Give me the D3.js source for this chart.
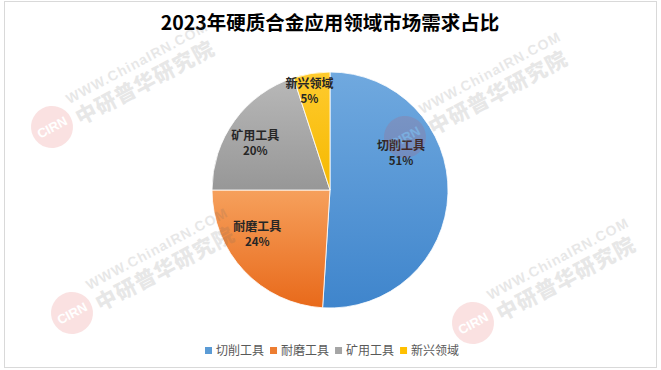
<!DOCTYPE html>
<html><head><meta charset="utf-8">
<script src="https://cdn.jsdelivr.net/npm/d3@7"></script>
<style>
html,body{margin:0;padding:0;background:#fff;}
svg{display:block;font-family:"Noto Sans CJK SC","Noto Sans",sans-serif;}
</style></head>
<body>
<svg id="chart" width="661" height="370"></svg>
<script>
const title = "2023年硬质合金应用领域市场需求占比";
const categories = ["切削工具", "耐磨工具", "矿用工具", "新兴领域"];
const values = [51, 24, 20, 5];
const colorsLight = ["#70a9df", "#f6a05c", "#b8b8b8", "#ffcb2e"];
const colorsDark  = ["#3f85cc", "#e8691a", "#979797", "#f5b800"];
const legendColors = ["#5b9bd5", "#ed7d31", "#a5a5a5", "#ffc000"];
// label placement (fraction of slice angle, fraction of radius)
const labelAngleFrac = [0.34, 0.64, 0.45, 0.35];
const labelRadiusFrac = [0.68, 0.72, 0.75, 0.86];

const svg = d3.select("#chart");
svg.append("rect").attr("x",4.5).attr("y",1.5).attr("width",652).attr("height",366)
  .attr("fill","#fff").attr("stroke","#d9d9d9").attr("stroke-width",1);

const defs = svg.append("defs");
categories.forEach((c,i)=>{
  const g = defs.append("linearGradient").attr("id","grad"+i)
    .attr("x1",0).attr("y1",0).attr("x2",0).attr("y2",1);
  g.append("stop").attr("offset","0%").attr("stop-color",colorsLight[i]);
  g.append("stop").attr("offset","100%").attr("stop-color",colorsDark[i]);
});

svg.append("text").attr("x",330).attr("y",30).attr("text-anchor","middle")
  .attr("font-size",19.5).attr("font-weight",700).attr("fill","#000").text(title);

const cx = 330, cy = 190, r = 118;
const pie = d3.pie().sort(null).value(d=>d)(values);
const arc = d3.arc().innerRadius(0).outerRadius(r);
const g = svg.append("g").attr("transform",`translate(${cx},${cy})`);
g.selectAll("path").data(pie).join("path")
  .attr("d",arc).attr("fill",(d,i)=>`url(#grad${i})`)
  .attr("stroke","#fff").attr("stroke-width",0.8);

pie.forEach((d,i)=>{
  const a = d.startAngle + (d.endAngle-d.startAngle)*labelAngleFrac[i];
  const rr = r*labelRadiusFrac[i];
  const x = Math.sin(a)*rr, y = -Math.cos(a)*rr;
  g.append("text").attr("text-anchor","middle").attr("font-size",12)
    .attr("font-weight",700).attr("fill","#262626")
    .attr("x",x).attr("y",y-3).text(categories[i]);
  g.append("text").attr("text-anchor","middle").attr("font-size",11.5)
    .attr("font-weight",700).attr("fill","#262626")
    .attr("x",x).attr("y",y+12).text(values[i]+"%");
});

// legend
const legend = svg.append("g");
let lx = 205;
categories.forEach((c,i)=>{
  legend.append("rect").attr("x",lx).attr("y",347).attr("width",7).attr("height",7).attr("fill",legendColors[i]);
  const t = legend.append("text").attr("x",lx+11).attr("y",355).attr("font-size",12)
    .attr("fill","#595959").text(c);
  lx += 11 + t.node().getComputedTextLength() + 6;
});

// watermarks
const marks = [[52,127],[405,137],[72,313],[473,323]];
marks.forEach(([mx,my])=>{
  const w = svg.append("g").attr("transform",`translate(${mx},${my}) rotate(-28)`).attr("opacity",0.15);
  w.append("circle").attr("r",21).attr("fill","#e04040");
  w.append("text").attr("text-anchor","middle").attr("y",5).attr("font-size",13)
    .attr("font-weight",700).attr("fill","#fff").attr("font-family","Arial, sans-serif").text("CIRN");
  w.append("text").attr("x",26).attr("y",-12).attr("font-size",14).attr("font-weight",700)
    .attr("fill","#666").attr("font-family","Arial, sans-serif").attr("letter-spacing",1).text("WWW.ChinaIRN.COM");
  w.append("text").attr("x",26).attr("y",12).attr("font-size",21).attr("font-weight",900)
    .attr("fill","#666").attr("letter-spacing",1).text("中研普华研究院");
});
</script>
</body></html>
